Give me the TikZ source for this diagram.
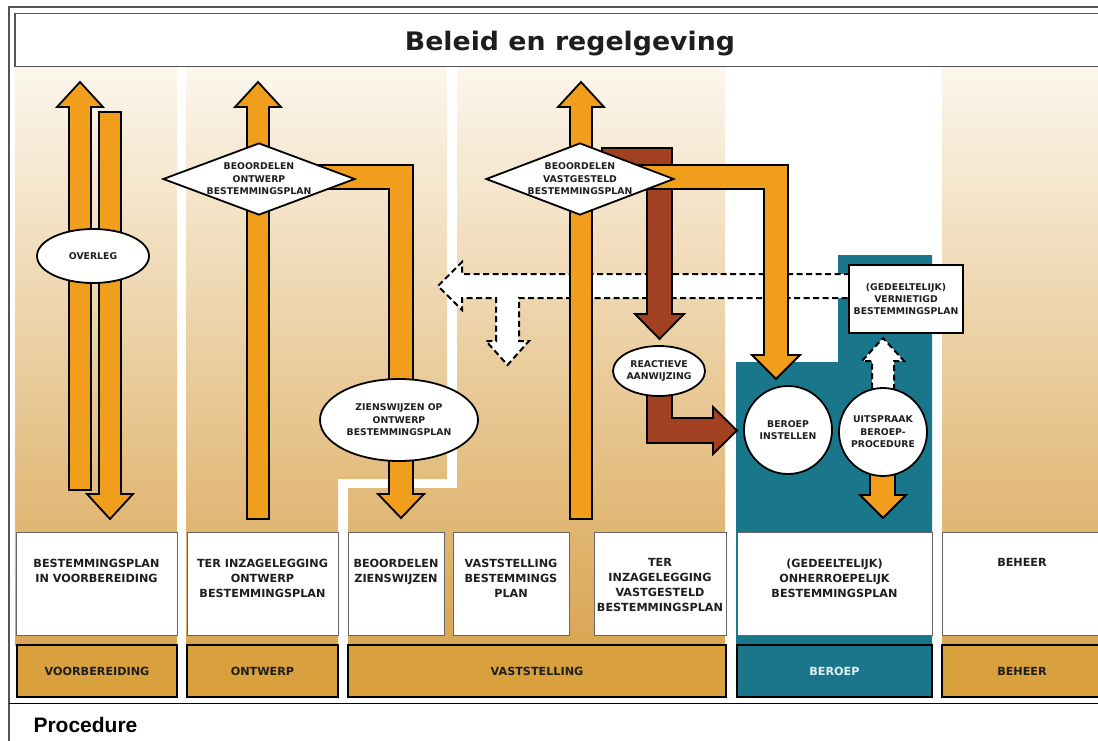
\documentclass[tikz,border=0pt]{standalone}
\usepackage{fontspec}
\setmainfont{DejaVu Sans}
\newfontfamily\procfont{Liberation Sans}
\usetikzlibrary{shapes.geometric}
\definecolor{bgtop}{RGB}{252,246,236}
\definecolor{bgbot}{RGB}{217,166,84}
\definecolor{orangeA}{RGB}{240,158,28}
\definecolor{brownA}{RGB}{162,64,34}
\definecolor{tealA}{RGB}{26,118,138}
\definecolor{phaseA}{RGB}{217,160,62}
\definecolor{framec}{RGB}{85,85,85}
\definecolor{txtc}{RGB}{30,30,30}
\definecolor{lighttxt}{RGB}{222,240,242}
\newcommand\smalltxt{\fontsize{9.3}{12.4}\selectfont\bfseries}
\newcommand\boxtxt{\fontsize{11.2}{15}\selectfont\bfseries}
\newcommand\titletxt{\fontsize{25.5}{28}\selectfont\bfseries}
\newcommand\proctxt{\procfont\fontsize{21}{24}\selectfont\bfseries}
\begin{document}
\begin{tikzpicture}[x=1pt,y=-1pt,
  bg/.style={top color=bgtop,bottom color=bgbot},
  arr/.style={fill=orangeA,draw=black,line width=1.8pt,line join=miter},
  brn/.style={fill=brownA,draw=black,line width=1.8pt,line join=miter},
  dsh/.style={draw=black,line width=2pt,dash pattern=on 6pt off 3.5pt},
  ell/.style={ellipse,draw=black,fill=white,line width=1.8pt,inner sep=0pt,align=center,font=\smalltxt,text=txtc},
  circ/.style={circle,draw=black,fill=white,line width=1.8pt,inner sep=0pt,minimum size=88pt,align=center,font=\smalltxt,text=txtc},
  dia/.style={diamond,draw=black,fill=white,line width=1.8pt,inner sep=0pt,minimum width=192pt,minimum height=72pt},
  lbl/.style={font=\smalltxt,align=center,text=txtc,inner sep=0pt},
  wbox/.style={draw=gray!80!black,line width=0.8pt,fill=white,inner sep=0pt},
  btxt/.style={font=\boxtxt,align=center,text=txtc,inner sep=0pt,anchor=north},
  pbox/.style={draw=black,line width=2.5pt,fill=phaseA,inner sep=0pt,font=\boxtxt,text=txtc}
]
\useasboundingbox (0,0) rectangle (1098,740);
% frame
\draw[framec,line width=1.2pt] (9,742) -- (9,7) -- (1100,7);
\draw[black,line width=1pt] (9,703) -- (1100,703);
% title
\draw[framec,line width=1.5pt,fill=white] (15,13.5) rectangle (1105,66.5);
\node[font=\titletxt,text=txtc,anchor=base] (title) at (570,50.5) {\scalebox{1.05}[1]{Beleid en regelgeving}};
\node[font=\proctxt,text=black,anchor=base west] (proc) at (30,732) {Procedure};
% backgrounds
\shade[bg] (15,67) rectangle (177,645);
\shade[bg] (186,67) -- (447,67) -- (447,479) -- (338,479) -- (338,645) -- (186,645) -- cycle;
\shade[bg] (457,67) -- (725,67) -- (725,645) -- (348,645) -- (348,488) -- (457,488) -- cycle;
\shade[bg] (942,67) rectangle (1100,645);
\fill[tealA] (736,362) -- (838,362) -- (838,255) -- (932,255) -- (932,645) -- (736,645) -- cycle;
% dashed arrow (vernietigd)
\path[fill=white] (438,286) -- (462,262) -- (462,274) -- (850,274) -- (850,298) -- (519,298) -- (519,341) -- (529,341) -- (507.5,365) -- (486,341) -- (496,341) -- (496,298) -- (462,298) -- (462,310) -- cycle;
\draw[dsh] (850,274) -- (462,274) -- (462,262) -- (438,286) -- (462,310) -- (462,298) -- (496,298) -- (496,341) -- (486,341) -- (507.5,365) -- (529,341) -- (519,341) -- (519,298) -- (850,298);
\draw[dsh,fill=white] (872,398) -- (872,361) -- (862,361) -- (883,338) -- (904,361) -- (894,361) -- (894,398);
% column 1 arrows
\draw[arr] (69,490) -- (69,107) -- (57,107) -- (80,82) -- (103,107) -- (91,107) -- (91,490) -- cycle;
\draw[arr] (99,112) -- (121,112) -- (121,494) -- (133,494) -- (110,519) -- (87,494) -- (99,494) -- cycle;
% column 2 arrows
\draw[arr] (247,519) -- (247,107) -- (235,107) -- (258,82) -- (281,107) -- (269,107) -- (269,519) -- cycle;
\draw[arr] (300,165) -- (413,165) -- (413,494) -- (424,494) -- (401,518) -- (378,494) -- (389,494) -- (389,189) -- (300,189) -- cycle;
% column 3 arrows
\draw[arr] (570,519) -- (570,107) -- (558,107) -- (581,82) -- (604,107) -- (592,107) -- (592,519) -- cycle;
\draw[brn] (602,148) -- (672,148) -- (672,314) -- (684,314) -- (659.5,339) -- (635,314) -- (647,314) -- (647,172) -- (602,172) -- cycle;
\draw[arr] (630,165) -- (788,165) -- (788,355) -- (800,355) -- (776,379) -- (752,355) -- (764,355) -- (764,189) -- (630,189) -- cycle;
\draw[brn] (647,385) -- (647,443) -- (713,443) -- (713,454) -- (737,430.5) -- (713,407) -- (713,418) -- (672,418) -- (672,385) -- cycle;
\draw[arr] (870,465) -- (870,495) -- (860,495) -- (883,518) -- (906,495) -- (895,495) -- (895,465) -- cycle;
% diamonds and ellipses
\node[dia] (d1) at (259,179) {};
\node[lbl] (d1t) at (d1) {BEOORDELEN\\ONTWERP\\BESTEMMINGSPLAN};
\node[dia,minimum width=188pt] (d2) at (580,179) {};
\node[lbl] (d2t) at (d2) {BEOORDELEN\\VASTGESTELD\\BESTEMMINGSPLAN};
\node[ell,minimum width=112pt,minimum height=54pt] (overleg) at (93,256) {OVERLEG};
\node[ell,minimum width=158pt,minimum height=82pt] (zien) at (399,420) {ZIENSWIJZEN OP\\ONTWERP\\BESTEMMINGSPLAN};
\node[ell,minimum width=92pt,minimum height=50pt] (react) at (659,371) {REACTIEVE\\AANWIJZING};
\node[circ] (instel) at (788,430) {BEROEP\\INSTELLEN};
\node[circ] (uitspr) at (883,432) {UITSPRAAK\\BEROEP-\\PROCEDURE};
\node[draw=black,line width=1.6pt,fill=white,minimum width=114pt,minimum height=68pt,inner sep=0pt,font=\smalltxt,align=center,text=txtc] (vern) at (906,299) {(GEDEELTELIJK)\\VERNIETIGD\\BESTEMMINGSPLAN};
% white boxes
\node[wbox,minimum width=161pt,minimum height=103pt] (b1) at (96.5,583.5) {};
\node[wbox,minimum width=151pt,minimum height=103pt] (b2) at (262.5,583.5) {};
\node[wbox,minimum width=96pt,minimum height=103pt] (b3) at (396,583.5) {};
\node[wbox,minimum width=116pt,minimum height=103pt] (b4) at (511,583.5) {};
\node[wbox,minimum width=132pt,minimum height=103pt] (b5) at (660,583.5) {};
\node[wbox,minimum width=195pt,minimum height=103pt] (b6) at (834.5,583.5) {};
\node[wbox,minimum width=160pt,minimum height=103pt] (b7) at (1022,583.5) {};
\node[btxt] (t1) at (96.5,558.5) {BESTEMMINGSPLAN\\IN VOORBEREIDING};
\node[btxt] (t2) at (262.5,558.5) {TER INZAGELEGGING\\ONTWERP\\BESTEMMINGSPLAN};
\node[btxt] (t3) at (396,558.5) {BEOORDELEN\\ZIENSWIJZEN};
\node[btxt] (t4) at (511,558.5) {VASTSTELLING\\BESTEMMINGS\\PLAN};
\node[btxt] (t5) at (660,558.5) {TER\\INZAGELEGGING\\VASTGESTELD\\BESTEMMINGSPLAN};
\node[btxt] (t6) at (834.5,558.5) {(GEDEELTELIJK)\\ONHERROEPELIJK\\BESTEMMINGSPLAN};
\node[btxt] (t7) at (1022,558.5) {BEHEER};
% phase boxes
\node[pbox,minimum width=160pt,minimum height=52pt] (p1) at (97,671) {VOORBEREIDING};
\node[pbox,minimum width=151pt,minimum height=52pt] (p2) at (262.5,671) {ONTWERP};
\node[pbox,minimum width=378pt,minimum height=52pt] (p3) at (537,671) {VASTSTELLING};
\node[pbox,fill=tealA,text=lighttxt,minimum width=195pt,minimum height=52pt] (p4) at (834.5,671) {BEROEP};
\node[pbox,minimum width=160pt,minimum height=52pt] (p5) at (1022,671) {BEHEER};
\end{tikzpicture}
\end{document}
